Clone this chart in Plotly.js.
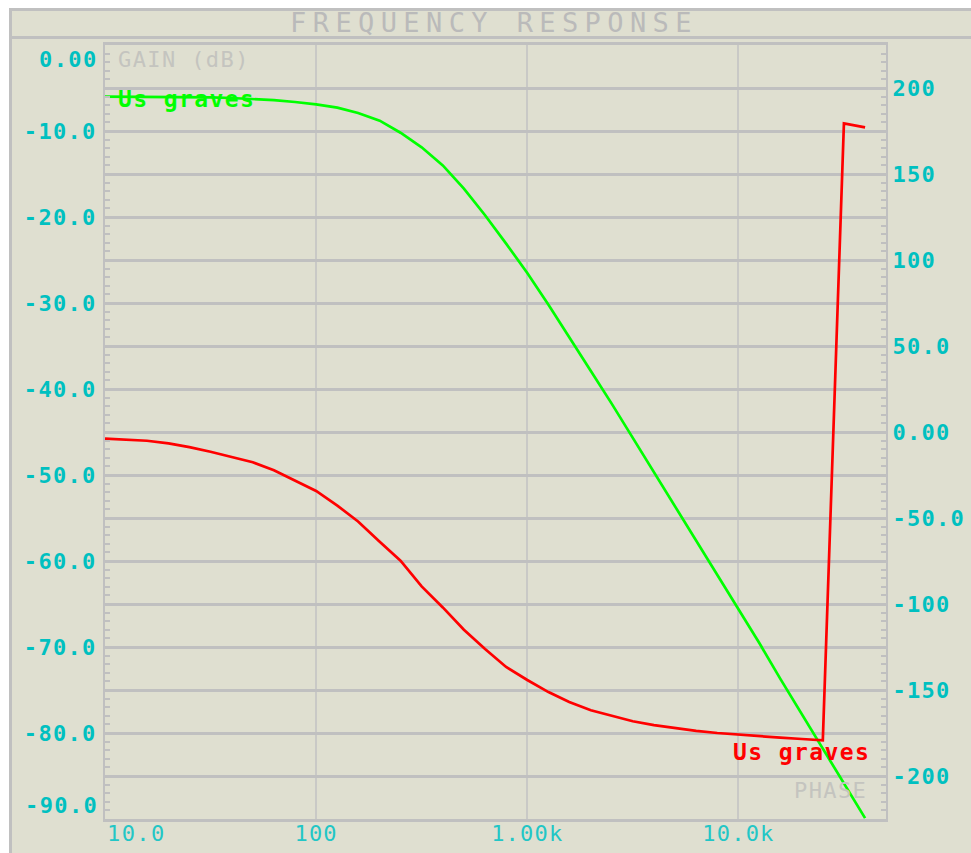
<!DOCTYPE html>
<html>
<head>
<meta charset="utf-8">
<script src="https://cdn.plot.ly/plotly-3.0.1.min.js"></script>
<style>
  html, body { margin: 0; padding: 0; background: #ffffff; }
  #chart { width: 971px; height: 853px; }
  .gtitle { letter-spacing: 6.4px; }
  .xtick text { letter-spacing: 1.2px; }
  .ytick text, .y2tick text { letter-spacing: 1.3px; }
  .annotation-text { letter-spacing: 1.4px; }
</style>
</head>
<body>
<div id="chart"></div>
<script>
// AC sweep, 10 points per decade (Hz)
const freq = [10, 12.6, 15.8, 20, 25.1, 31.6, 39.8, 50.1, 63.1, 79.4,
  100, 126, 158, 200, 251, 316, 398, 501, 631, 794,
  1000, 1260, 1580, 2000, 2510, 3160, 3980, 5010, 6310, 7940,
  10000, 12600, 15800, 20000, 25100, 31600, 39800];

// Gain of "Us graves" (dB)
const gainDb = [-6.01, -6.02, -6.03, -6.05, -6.07, -6.10, -6.16, -6.27, -6.42, -6.63,
  -6.90, -7.28, -7.90, -8.80, -10.2, -11.9, -14.0, -16.7, -19.8, -23.1,
  -26.5, -30.2, -33.9, -37.9, -41.7, -45.7, -49.6, -53.7, -57.7, -61.6,
  -65.6, -69.6, -73.7, -77.8, -81.9, -85.9, -89.9];

// Phase of "Us graves" (degrees, wrapped to +/-180)
const phaseDeg = [-3.9, -4.4, -5.1, -6.6, -8.8, -11.5, -14.4, -17.6, -22.3, -28.3,
  -34.3, -42.8, -52.0, -63.8, -74.8, -89.8, -102.0, -115.0, -126.2, -136.6,
  -144.2, -151.2, -157.0, -161.8, -165.2, -168.2, -170.4, -172.2, -173.8, -175.0,
  -176.0, -176.9, -177.7, -178.5, -179.3, 179.4, 177.1];

const traceName = 'Us graves';

// Axis tick labels
const xTickVals = [10, 100, 1000, 10000];
const xTickText = ['10.0', '100', '1.00k', '10.0k'];
const gainTickVals = [0, -10, -20, -30, -40, -50, -60, -70, -80, -90];
const gainTickText = ['0.00', '-10.0', '-20.0', '-30.0', '-40.0', '-50.0', '-60.0', '-70.0', '-80.0', '-90.0'];
const phaseTickVals = [200, 150, 100, 50, 0, -50, -100, -150, -200];
const phaseTickText = ['200', '150', '100', '50.0', '0.00', '-50.0', '-100', '-150', '-200'];

// ---- layout geometry (pixels) ----
const W = 971, H = 853;
const L = 105, R = 886, T = 45, B = 819;
const px2x = p => (p - L) / (R - L);
const py2y = p => (B - p) / (B - T);

const BG = '#dfdfd0';
const FRAME = '#c0c0c0';
const CYAN = '#00c0c0';
const LABEL_GRAY = '#c4c4bf';
const MONO = 'DejaVu Sans Mono, Liberation Mono, monospace';

// grid every 5 dB, ticks every 1 dB on the gain axis
const gainGrid = [], gainGridText = [], gainMinor = [];
for (let v = -90; v <= 0; v += 5) {
  gainGrid.push(v);
  const i = gainTickVals.indexOf(v);
  gainGridText.push(i > 0 && i < gainTickVals.length - 1 ? gainTickText[i] : '');
}
for (let v = -90; v <= 0; v += 1) gainMinor.push(v);
const phaseMinor = [];
for (let v = -225; v <= 225; v += 5) phaseMinor.push(v);

const traces = [
  {
    x: freq, y: phaseDeg, yaxis: 'y2', type: 'scatter', mode: 'lines',
    name: traceName, line: { color: '#ff0000', width: 2.7 }, hoverinfo: 'skip'
  },
  {
    x: freq, y: gainDb, yaxis: 'y', type: 'scatter', mode: 'lines',
    name: traceName, line: { color: '#00ff00', width: 2.7 }, hoverinfo: 'skip'
  }
];

const boldTick = { family: MONO, size: 22, color: CYAN, weight: 'bold' };
const thinTick = { family: MONO, size: 22, color: '#22c6c6' };

const layout = {
  width: W, height: H,
  margin: { l: L, r: W - R, t: T, b: H - B, pad: 0 },
  paper_bgcolor: '#ffffff',
  plot_bgcolor: BG,
  showlegend: false,
  title: {
    text: 'FREQUENCY RESPONSE',
    font: { family: MONO, size: 27, color: '#bababa' },
    xref: 'container', x: 494 / W, xanchor: 'center',
    yref: 'container', y: 1 - 23 / H, yanchor: 'middle'
  },
  xaxis: {
    type: 'log',
    range: [1, Math.log10(50000)],
    tickmode: 'array',
    tickvals: xTickVals.slice(1),
    ticktext: xTickText.slice(1),
    tickfont: thinTick,
    ticks: '',
    ticklabelstandoff: -7,
    showgrid: true, gridcolor: '#c9c9c6', gridwidth: 2,
    showline: true, mirror: true, linecolor: FRAME, linewidth: 3,
    zeroline: false, fixedrange: true
  },
  yaxis: {
    range: [-90, 0],
    tickmode: 'array',
    tickvals: gainGrid,
    ticktext: gainGridText,
    tickfont: boldTick,
    ticks: 'inside', ticklen: 5, tickwidth: 2, tickcolor: FRAME,
    minor: { tickmode: 'array', tickvals: gainMinor, ticks: 'inside', ticklen: 5, tickwidth: 2, tickcolor: FRAME, showgrid: false },
    ticklabelstandoff: 2,
    showgrid: true, gridcolor: FRAME, gridwidth: 3,
    showline: true, linecolor: FRAME, linewidth: 2,
    zeroline: false, fixedrange: true
  },
  yaxis2: {
    range: [-225, 225],
    overlaying: 'y', side: 'right',
    tickmode: 'array',
    tickvals: phaseTickVals,
    ticktext: phaseTickText,
    tickfont: boldTick,
    ticks: 'inside', ticklen: 5, tickwidth: 2, tickcolor: FRAME,
    minor: { tickmode: 'array', tickvals: phaseMinor, ticks: 'inside', ticklen: 5, tickwidth: 2, tickcolor: FRAME, showgrid: false },
    ticklabelstandoff: 0,
    showgrid: false,
    showline: true, linecolor: FRAME, linewidth: 2,
    zeroline: false, fixedrange: true
  },
  shapes: [
    // window frame (left and top edges visible)
    {
      type: 'rect', xref: 'paper', yref: 'paper', layer: 'below',
      x0: px2x(10.5), x1: px2x(W + 10), y0: py2y(H + 10), y1: py2y(9.5),
      fillcolor: BG, line: { color: FRAME, width: 3 }
    },
    // title bar separator
    {
      type: 'line', xref: 'paper', yref: 'paper', layer: 'below',
      x0: px2x(10.5), x1: px2x(W + 10), y0: py2y(37.5), y1: py2y(37.5),
      line: { color: FRAME, width: 3 }
    }
  ],
  annotations: [
    {
      text: gainTickText[0], xref: 'paper', yref: 'paper',
      x: px2x(100), xanchor: 'right', y: py2y(59.5), yanchor: 'middle',
      showarrow: false, font: boldTick
    },
    {
      text: gainTickText[gainTickText.length - 1], xref: 'paper', yref: 'paper',
      x: px2x(100), xanchor: 'right', y: py2y(805), yanchor: 'middle',
      showarrow: false, font: boldTick
    },
    {
      text: xTickText[0], xref: 'paper', yref: 'paper',
      x: px2x(105), xanchor: 'left', y: py2y(833), yanchor: 'middle',
      showarrow: false, font: thinTick
    },
    {
      text: 'GAIN (dB)', xref: 'paper', yref: 'paper',
      x: px2x(116), xanchor: 'left', y: py2y(59), yanchor: 'middle',
      showarrow: false, font: { family: MONO, size: 22, color: LABEL_GRAY }
    },
    {
      text: 'PHASE', xref: 'paper', yref: 'paper',
      x: px2x(869), xanchor: 'right', y: py2y(790), yanchor: 'middle',
      showarrow: false, font: { family: MONO, size: 22, color: LABEL_GRAY }
    },
    {
      text: traceName, xref: 'paper', yref: 'paper',
      x: px2x(116), xanchor: 'left', y: py2y(99), yanchor: 'middle',
      showarrow: false, font: { family: MONO, size: 23, color: '#00ff00', weight: 'bold' }
    },
    {
      text: traceName, xref: 'paper', yref: 'paper',
      x: px2x(731), xanchor: 'left', y: py2y(752), yanchor: 'middle',
      showarrow: false, font: { family: MONO, size: 23, color: '#ff0000', weight: 'bold' }
    }
  ]
};

Plotly.newPlot('chart', traces, layout, { staticPlot: true, displayModeBar: false });
</script>
</body>
</html>
